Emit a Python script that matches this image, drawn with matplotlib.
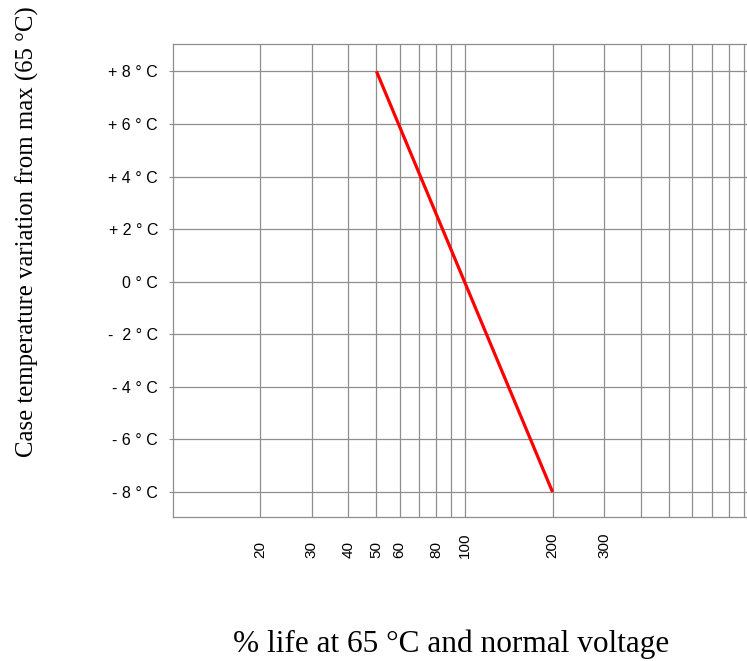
import numpy as np
import matplotlib
matplotlib.use('Agg')
import matplotlib.pyplot as plt
from matplotlib.ticker import LogLocator, NullFormatter

# data
life_pct = [50, 100, 200]
temp_var = [8, 0, -8]

xtick_vals = [20, 30, 40, 50, 60, 80, 100, 200, 300]
xtick_labels = ['20', '30', '40', '50', '60', '80', '100', '200', '300']
ytick_vals = [8, 6, 4, 2, 0, -2, -4, -6, -8]
ytick_labels = ['+ 8 ° C', '+ 6 ° C', '+ 4 ° C', '+ 2 ° C', '0 ° C',
                '-  2 ° C', '- 4 ° C', '- 6 ° C', '- 8 ° C']

W, H = 747, 661
fig = plt.figure(figsize=(W / 100, H / 100), dpi=100)

# axes box in pixels (right edge runs past the figure, like the reference)
left, right, top, bottom = 173.3, 757, 44, 517.3
ax = fig.add_axes([left / W, 1 - bottom / H, (right - left) / W, (bottom - top) / H])

grid_col = '#8e8e8e'
ax.plot(life_pct, temp_var, color='red', lw=2.3, solid_capstyle='butt', zorder=3)

ax.set_xscale('log')
ax.set_xlim(10.1, 1000)
ax.set_ylim(-8.96, 9.04)

#x ticks: labels only, grid on every 1..9 multiple
ax.set_xticks(xtick_vals, xtick_labels, rotation=90, va='bottom', ha='center',
              fontsize=11, family='Liberation Sans')
ax.xaxis.set_minor_locator(LogLocator(base=10, subs=np.arange(1, 10)))
ax.xaxis.set_minor_formatter(NullFormatter())
ax.tick_params(axis='x', which='both', length=0, pad=29.3)

ax.set_yticks(ytick_vals, ytick_labels, fontsize=11.5, family='Liberation Sans')
ax.tick_params(axis='y', length=3, width=0.8, color=grid_col, pad=8)

ax.grid(True, which='both', axis='x', color=grid_col, lw=0.9)
ax.grid(True, which='major', axis='y', color=grid_col, lw=0.9)
for s in ax.spines.values():
    s.set_color(grid_col)
    s.set_linewidth(0.9)

fig.text(27 / W, 1 - 231.5 / H, 'Case temperature variation from max (65 °C)',
         rotation=90, ha='center', va='center', fontsize=17.8, family='Liberation Serif')
fig.text(451 / W, 1 - 652 / H, '% life at 65 °C and normal voltage',
         ha='center', va='baseline', fontsize=22.5, family='Liberation Serif')

fig.savefig('out.png', dpi=100)
